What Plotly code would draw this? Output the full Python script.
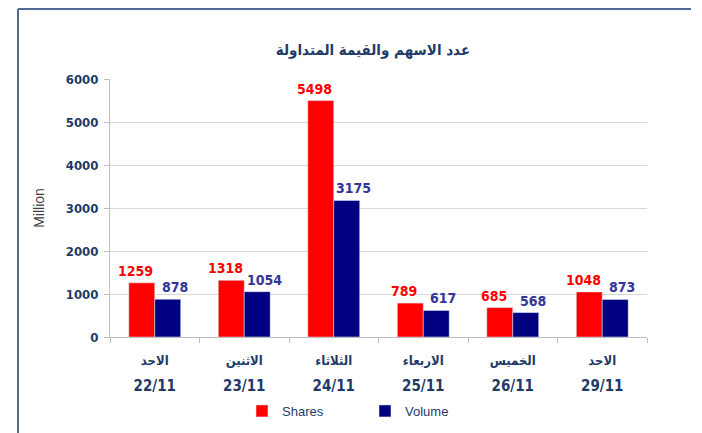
import plotly.graph_objects as go

days = ["الاحد", "الاثنين", "الثلاثاء", "الاربعاء", "الخميس", "الاحد"]
dates = ["22/11", "23/11", "24/11", "25/11", "26/11", "29/11"]
shares = [1259, 1318, 5498, 789, 685, 1048]
volume = [878, 1054, 3175, 617, 568, 873]

NAVY_TXT = "#1F3A68"
NUMFONT = "DejaVu Sans Condensed, Liberation Sans Narrow"
RED = "#FF0000"
NAVY = "#000080"

fig = go.Figure()
fig.add_trace(go.Bar(x=dates, y=shares, name="Shares", marker_color=RED, hoverinfo="x+y"))
fig.add_trace(go.Bar(x=dates, y=volume, name="Volume", marker_color=NAVY, hoverinfo="x+y"))
# invisible helper trace to carry the date labels on a second (overlaid) x axis
fig.add_trace(go.Scatter(x=dates, y=shares, xaxis="x2", mode="markers",
                         marker=dict(opacity=0), showlegend=False, hoverinfo="skip"))

# data labels
for d, s, v in zip(dates, shares, volume):
    fig.add_annotation(x=d, y=s, xref="x", yref="y", text=f"<b>{s}</b>", showarrow=False,
                       yanchor="bottom", xshift=-19, yshift=2,
                       font=dict(color=RED, size=14, family=NUMFONT))
    fig.add_annotation(x=d, y=v, xref="x", yref="y", text=f"<b>{v}</b>", showarrow=False,
                       yanchor="bottom", xshift=20, yshift=2,
                       font=dict(color="#34349A", size=14, family=NUMFONT))

fig.update_layout(
    width=702, height=433,
    margin=dict(l=102, r=63, t=71, b=104, autoexpand=False),
    paper_bgcolor="white", plot_bgcolor="white",
    barmode="group", bargap=0.42, bargroupgap=0,
    title=dict(text="<b>عدد الاسهم والقيمة المتداولة</b>", x=(373 - 8) / 702, xanchor="center",
               y=1 - 42 / 433, yanchor="middle",
               font=dict(family="DejaVu Sans Condensed, DejaVu Sans", size=15, color=NAVY_TXT)),
    font=dict(family="DejaVu Sans Condensed, DejaVu Sans", color=NAVY_TXT),
    legend=dict(orientation="h", x=(234 - 102) / 537, xanchor="left", y=-74 / 258, yanchor="middle",
                font=dict(size=13, color=NAVY_TXT, family="Liberation Sans, Arial"),
                entrywidth=78, itemwidth=30, traceorder="normal"),
    showlegend=True,
    xaxis2=dict(overlaying="x", anchor="y", side="bottom", type="category",
                categoryorder="array", categoryarray=dates, range=[-0.5, 5.5],
                showline=False, ticks="", showgrid=False, ticklabelstandoff=38,
                tickprefix="<b>", ticksuffix="</b>",
                tickfont=dict(size=15, color=NAVY_TXT, family=NUMFONT)),
)
fig.update_yaxes(range=[0, 6000], dtick=1000, showgrid=True, gridcolor="#D9D9D9",
                 showline=True, linecolor="#BFBFBF", ticks="outside", ticklen=5, tickcolor="#BFBFBF",
                 ticklabelstandoff=3,
                 tickfont=dict(size=13, color=NAVY_TXT, family=NUMFONT),
                 tickprefix="<b>", ticksuffix="</b>",
                 title=dict(text="Million", font=dict(size=14, color="#404040", family="Liberation Sans, Arial"),
                            standoff=17),
                 zeroline=False)
fig.layout.xaxis.update(showline=True, linecolor="#BFBFBF", ticks="outside", tickson="boundaries",
                        ticklen=5, tickcolor="#BFBFBF", ticklabelstandoff=11,
                        type="category", categoryorder="array", categoryarray=dates, range=[-0.5, 5.5],
                        tickmode="array", tickvals=dates, ticktext=[f"<b>{d}</b>" for d in days],
                        tickfont=dict(size=13, color=NAVY_TXT, family="DejaVu Sans Condensed, DejaVu Sans"))

# frame lines (top and left)
fig.add_shape(type="line", xref="paper", yref="paper",
              x0=-92 / 537, x1=581 / 537, y0=1 + 70 / 258, y1=1 + 70 / 258,
              line=dict(color="#4F6A94", width=2))
fig.add_shape(type="line", xref="paper", yref="paper",
              x0=-92 / 537, x1=-92 / 537, y0=1 + 70 / 258, y1=-104 / 258,
              line=dict(color="#4F6A94", width=2))

fig.write_html("out.html")
